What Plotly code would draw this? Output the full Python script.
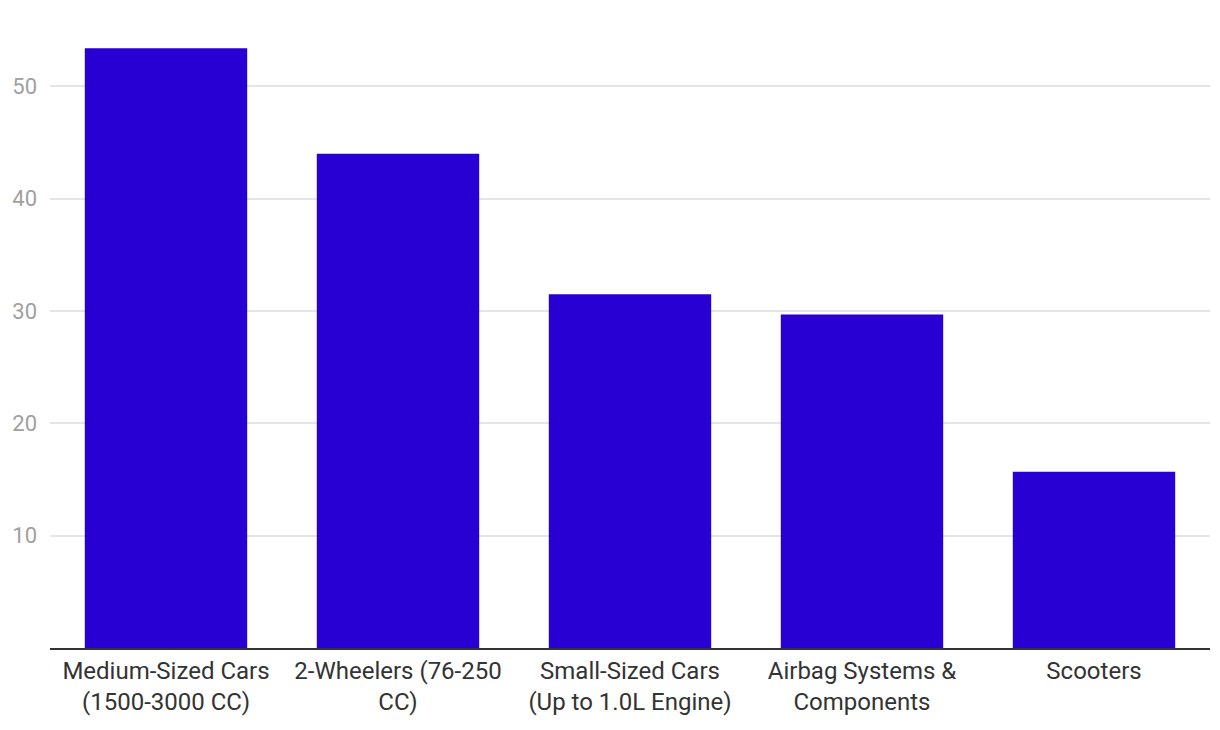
import plotly.graph_objects as go

categories = [
    "Medium-Sized Cars (1500-3000 CC)",
    "2-Wheelers (76-250 CC)",
    "Small-Sized Cars (Up to 1.0L Engine)",
    "Airbag Systems & Components",
    "Scooters",
]
tick_labels = [
    "Medium-Sized Cars<br>(1500-3000 CC)",
    "2-Wheelers (76-250<br>CC)",
    "Small-Sized Cars<br>(Up to 1.0L Engine)",
    "Airbag Systems &<br>Components",
    "Scooters",
]
values = [53.4, 44.0, 31.5, 29.7, 15.7]
y_ticks = [10, 20, 30, 40, 50]

fig = go.Figure(
    go.Bar(
        x=categories,
        y=values,
        marker=dict(color="#2900d4", line=dict(width=0)),
        hoverinfo="x+y",
    )
)

# page body adds an 8px offset; compensate in size and margins
fig.update_layout(
    width=1212,
    height=722,
    margin=dict(l=42, r=10, t=11, b=82, autoexpand=False),
    paper_bgcolor="white",
    plot_bgcolor="white",
    bargap=0.30,
    showlegend=False,
    font=dict(family="Roboto", size=20, color="#333333"),
)

fig.update_xaxes(
    tickmode="array",
    tickvals=categories,
    ticktext=tick_labels,
    tickfont=dict(family="Roboto", size=24, color="#333333"),
    showline=True,
    linecolor="#333333",
    linewidth=2,
    showgrid=False,
    ticks="",
    automargin=False,
    ticklabelstandoff=0,
)

fig.update_yaxes(
    range=[0, 56],
    tickmode="array",
    tickvals=y_ticks,
    ticktext=[str(v) for v in y_ticks],
    tickfont=dict(family="Roboto", size=22, color="#a0a0a0"),
    showgrid=True,
    gridcolor="#e5e5e5",
    gridwidth=1.5,
    zeroline=False,
    showline=False,
    ticks="",
    automargin=False,
    ticklabelstandoff=12,
)

fig.write_html("out.html")
